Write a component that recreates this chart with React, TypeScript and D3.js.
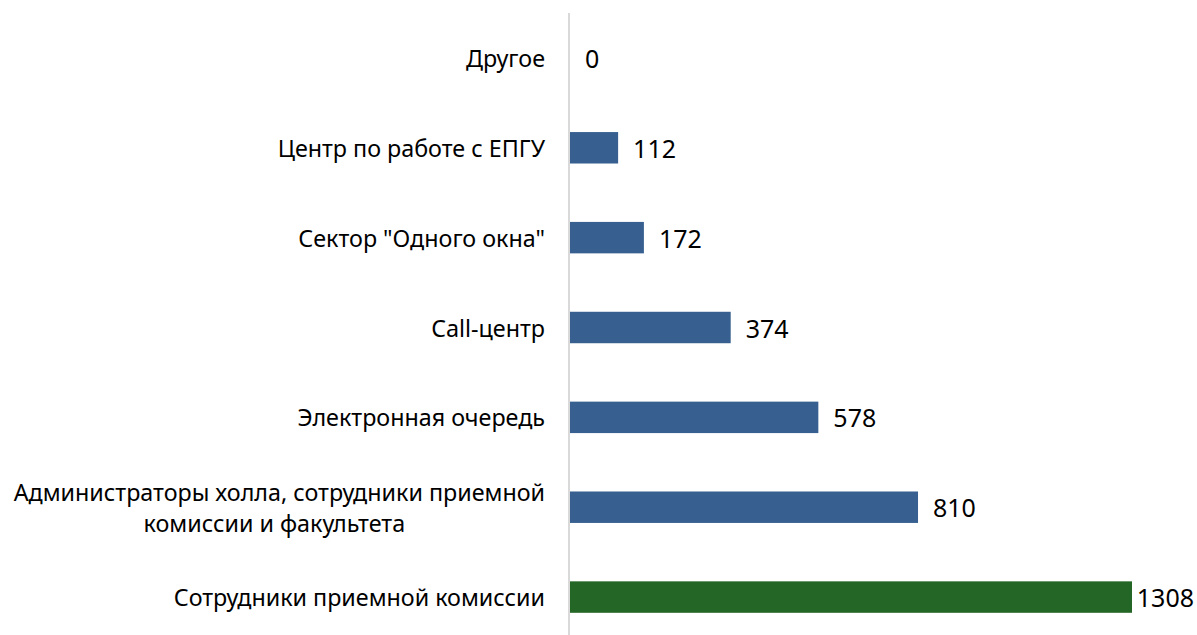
import * as d3 from "d3";
import { useEffect, useRef } from "react";

// ---- data ----
const categories = [
  "Другое",
  "Центр по работе с ЕПГУ",
  'Сектор "Одного окна"',
  "Call-центр",
  "Электронная очередь",
  "Администраторы холла, сотрудники приемной|комиссии и факультета",
  "Сотрудники приемной комиссии",
];
const values = [0, 112, 172, 374, 578, 810, 1308];
const highlight = [false, false, false, false, false, false, true];

export default function App() {
  const ref = useRef<SVGSVGElement>(null);

  useEffect(() => {
    document.body.style.margin = "0";
    const width = 1197;
    const height = 635;
    const axisX = 570;
    const font = "'Noto Sans', sans-serif";

    const svg = d3.select(ref.current).attr("width", width).attr("height", height);
    svg.selectAll("*").remove();

    // bar length scale
    const x = d3.scaleLinear().domain([0, 1308]).range([axisX, 1132]);
    // category bands
    const y = d3
      .scaleBand<string>()
      .domain(categories)
      .range([13, 642])
      .paddingInner(0.65)
      .paddingOuter(0.325);

    // bars
    svg
      .append("g")
      .selectAll("rect")
      .data(values)
      .join("rect")
      .attr("x", axisX)
      .attr("y", (_, i) => y(categories[i])!)
      .attr("width", (d) => x(d) - axisX)
      .attr("height", y.bandwidth())
      .attr("fill", (_, i) => (highlight[i] ? "#246626" : "#376090"));

    // axis line
    svg
      .append("line")
      .attr("x1", axisX - 1)
      .attr("x2", axisX - 1)
      .attr("y1", 13)
      .attr("y2", height)
      .attr("stroke", "#d9d9d9")
      .attr("stroke-width", 2);

    // category labels
    const labels = svg.append("g").attr("font-family", font).attr("font-size", 23.3).attr("fill", "#000");
    categories.forEach((c) => {
      const cy = y(c)! + y.bandwidth() / 2;
      const lines = c.split("|");
      const t = labels.append("text").attr("dominant-baseline", "central");
      if (lines.length === 1) {
        t.attr("x", 545).attr("y", cy).attr("text-anchor", "end").text(c);
      } else {
        t.attr("text-anchor", "end").attr("x", 545).attr("y", cy - 15.5).text(lines[0]);
        const w = (t.node() as SVGTextElement).getComputedTextLength();
        t.attr("text-anchor", "middle").attr("x", 545 - w / 2);
        labels
          .append("text")
          .attr("dominant-baseline", "central")
          .attr("text-anchor", "middle")
          .attr("x", 545 - w / 2 - 5)
          .attr("y", cy + 15.5)
          .text(lines[1]);
      }
    });

    // value labels
    const vals = svg.append("g").attr("font-family", font).attr("font-size", 25).attr("fill", "#000");
    values.forEach((v, i) => {
      const cy = y(categories[i])! + y.bandwidth() / 2;
      const t = vals
        .append("text")
        .attr("dominant-baseline", "central")
        .attr("x", x(v) + 15)
        .attr("y", cy)
        .text(String(v));
      const w = (t.node() as SVGTextElement).getComputedTextLength();
      if (x(v) + 15 + w > width - 3) t.attr("x", Math.max(x(v) + 2, width - 3 - w));
    });
  }, []);

  return <svg ref={ref} style={{ display: "block" }} />;
}
